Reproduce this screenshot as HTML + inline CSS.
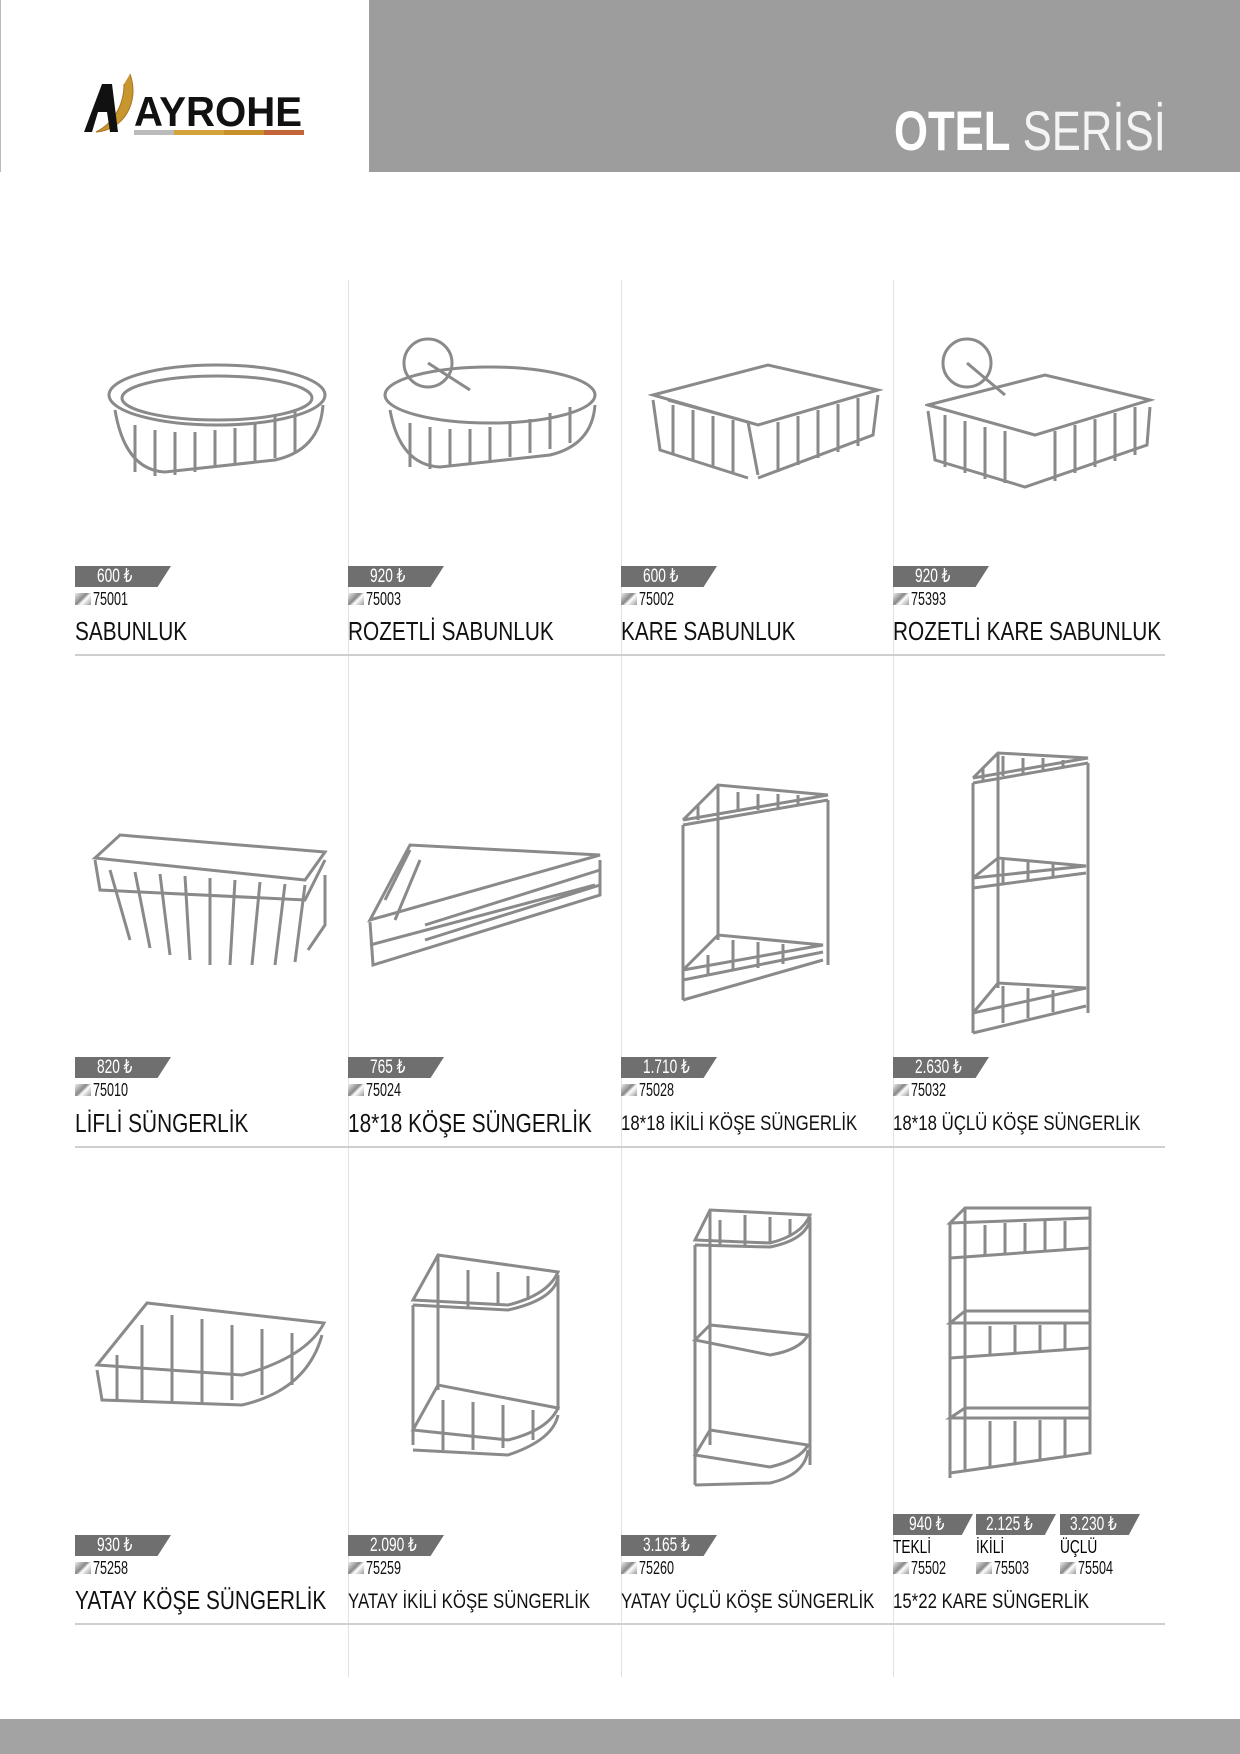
<!DOCTYPE html>
<html><head><meta charset="utf-8"><style>
*{margin:0;padding:0;box-sizing:border-box}
body{width:1240px;height:1754px;position:relative;background:#fff;font-family:"Liberation Sans",sans-serif;overflow:hidden}
.a{position:absolute}
.n{transform:scaleX(0.76);transform-origin:0 50%;white-space:nowrap}
.tag{position:absolute;width:96px;height:21px;background:#6f6f6f;clip-path:polygon(0 0,100% 0,86% 100%,0 100%);color:#fff;font-size:19px;line-height:21px;padding-left:22px}
.tag span{display:inline-block;transform:scaleX(0.72);transform-origin:0 50%;white-space:nowrap}
.code{position:absolute;font-size:18px;line-height:19px;color:#111;padding-left:18px;white-space:nowrap}
.code:before{content:"";position:absolute;left:0;top:3px;width:16px;height:12px;background:linear-gradient(135deg,#eee,#888 45%,#fff 60%,#999)}
.code span{display:inline-block;transform:scaleX(0.7);transform-origin:0 50%}
.t{position:absolute;font-size:26px;color:#111;white-space:nowrap;transform:scaleX(0.8);transform-origin:0 50%}
.ts{font-size:21px;transform:scaleX(0.8)}
.vl{position:absolute;top:280px;width:1px;height:1397px;background:#e2e2e2}
.hl{position:absolute;left:75px;width:1090px;height:2px;background:#cfcfcf}
svg{position:absolute}
svg *{fill:none;stroke:#8a8a8a;stroke-width:3}
</style></head><body>
<div class="a" style="left:0;top:0;width:1px;height:172px;background:#bbb"></div>
<div class="a" style="left:369px;top:0;width:871px;height:172px;background:#9d9d9d"></div>
<div class="a n" style="left:894px;top:98px;font-size:56px;color:#fff;transform:scaleX(0.78)"><b>OTEL</b> <span style="font-weight:normal;color:#f4f4f4">SERİSİ</span></div>
<svg style="left:74px;top:72px" width="232" height="66" viewBox="0 0 232 66">
<path d="M56 2 C66 30 50 58 22 60 C38 52 50 35 50 12" style="fill:#c8962e;stroke:#a87520;stroke-width:1"/>
<path d="M10 60 L28 12 L38 12 L44 60 L36 60 L33 40 L24 40 L18 60Z" style="fill:#111;stroke:none"/>
<text x="60" y="54" textLength="168" lengthAdjust="spacingAndGlyphs" style="fill:#111;stroke:none;font:bold 42px 'Liberation Sans',sans-serif">AYROHE</text>
<rect x="60" y="58" width="40" height="5" style="fill:#bbb;stroke:none"/><rect x="100" y="58" width="50" height="5" style="fill:#d4a33b;stroke:none"/><rect x="150" y="58" width="40" height="5" style="fill:#c8902a;stroke:none"/><rect x="190" y="58" width="40" height="5" style="fill:#c4643a;stroke:none"/>
</svg>

<div class="vl" style="left:348px"></div><div class="vl" style="left:621px"></div><div class="vl" style="left:893px"></div>
<div class="hl" style="top:654px"></div><div class="hl" style="top:1146px"></div><div class="hl" style="top:1623px"></div>
<div class="a" style="left:0;top:1719px;width:1240px;height:35px;background:#a3a3a3"></div>

<!-- Row 1 -->
<svg style="left:105px;top:360px" width="225" height="125"><ellipse cx="112" cy="35" rx="108" ry="30"/><ellipse cx="112" cy="38" rx="95" ry="22"/><path d="M10 50 Q20 110 60 112 L170 100 Q215 90 218 45"/><path d="M30 65 V112 M50 70 V116 M70 72 V115 M90 72 V112 M110 70 V108 M130 68 V105 M150 62 V102 M170 56 V98 M190 50 V92"/></svg>
<svg style="left:380px;top:335px" width="220" height="150"><circle cx="48" cy="28" r="24"/><path d="M48 28 L90 55"/><ellipse cx="110" cy="60" rx="105" ry="28"/><path d="M10 75 Q20 130 60 132 L170 120 Q212 110 215 70"/><path d="M30 88 V132 M50 92 V134 M70 94 V132 M90 94 V130 M110 92 V126 M130 88 V122 M150 84 V118 M170 78 V114 M190 72 V108"/></svg>
<svg style="left:648px;top:360px" width="235" height="130"><path d="M5 35 L120 5 L230 30 L110 65Z"/><path d="M20 40 L100 62 L110 115 M5 40 L12 90 L100 118 M230 35 L225 75 L110 118"/><path d="M25 45 V95 M45 50 V100 M65 56 V106 M85 60 V112 M130 62 V112 M150 56 V105 M170 50 V98 M190 44 V92 M210 38 V86"/></svg>
<svg style="left:925px;top:335px" width="230" height="160"><circle cx="42" cy="28" r="24"/><path d="M42 28 L80 60"/><path d="M3 70 L120 40 L225 65 L110 100Z"/><path d="M3 76 L10 125 L100 152 L222 110 L225 72"/><path d="M20 80 V132 M40 86 V138 M60 92 V144 M80 96 V148 M130 96 V146 M150 90 V138 M170 84 V132 M190 78 V126 M210 72 V120"/></svg>

<div class="tag" style="left:75px;top:566px"><span>600 ₺</span></div><div class="code" style="left:75px;top:590px"><span>75001</span></div><div class="t" style="left:75px;top:616px">SABUNLUK</div>
<div class="tag" style="left:348px;top:566px"><span>920 ₺</span></div><div class="code" style="left:348px;top:590px"><span>75003</span></div><div class="t" style="left:348px;top:616px">ROZETLİ SABUNLUK</div>
<div class="tag" style="left:621px;top:566px"><span>600 ₺</span></div><div class="code" style="left:621px;top:590px"><span>75002</span></div><div class="t" style="left:621px;top:616px">KARE SABUNLUK</div>
<div class="tag" style="left:893px;top:566px"><span>920 ₺</span></div><div class="code" style="left:893px;top:590px"><span>75393</span></div><div class="t" style="left:893px;top:616px">ROZETLİ KARE SABUNLUK</div>

<!-- Row 2 -->
<svg style="left:90px;top:830px" width="240" height="140"><path d="M5 28 L30 5 L235 22 L215 50 Z"/><path d="M5 30 L10 60 L215 70 L235 30"/><path d="M20 40 L40 110 M45 42 L60 118 M70 44 L80 125 M95 46 L100 130 M120 48 L120 135 M145 50 L140 135 M170 52 L162 135 M195 54 L185 135 M215 55 L205 132 M235 45 L235 95 L218 120"/></svg>
<svg style="left:365px;top:840px" width="240" height="130"><path d="M5 80 L45 5 L235 15 L5 80Z"/><path d="M5 82 L8 125 L235 55 L235 20"/><path d="M20 60 L45 10 M30 80 L55 20 M60 85 L235 30 M60 100 L235 45 M5 105 L230 45"/></svg>
<svg style="left:678px;top:780px" width="155" height="225"><path d="M5 40 L40 5 L150 15 L5 40 M5 45 L150 20"/><path d="M5 45 V220 M150 20 V185 M40 5 V160"/><path d="M5 190 L40 155 L145 165 L5 190 M5 220 L145 180 M5 200 L145 172"/><path d="M20 25 L20 40 M40 10 V35 M60 12 V32 M80 14 V30 M100 14 V28 M120 15 V26"/><path d="M30 175 V195 M55 160 V190 M80 162 V188 M105 164 V184"/></svg>
<svg style="left:968px;top:748px" width="125" height="290"><path d="M5 30 L30 5 L120 10 L5 30 M5 35 L120 15"/><path d="M5 35 V285 M120 15 V265 M30 5 V240"/><path d="M5 130 L30 110 L118 118 L5 130 M5 140 L118 125"/><path d="M5 265 L30 235 L118 240 L5 265 M5 285 L118 258"/><path d="M15 20 V32 M35 8 V28 M55 10 V25 M75 10 V22 M95 12 V20 M35 112 V135 M60 114 V132 M85 116 V128 M35 238 V275 M60 240 V270 M85 242 V264"/></svg>

<div class="tag" style="left:75px;top:1057px"><span>820 ₺</span></div><div class="code" style="left:75px;top:1081px"><span>75010</span></div><div class="t" style="left:75px;top:1108px">LİFLİ SÜNGERLİK</div>
<div class="tag" style="left:348px;top:1057px"><span>765 ₺</span></div><div class="code" style="left:348px;top:1081px"><span>75024</span></div><div class="t" style="left:348px;top:1108px">18*18 KÖŞE SÜNGERLİK</div>
<div class="tag" style="left:621px;top:1057px"><span>1.710 ₺</span></div><div class="code" style="left:621px;top:1081px"><span>75028</span></div><div class="t ts" style="left:621px;top:1112px">18*18 İKİLİ KÖŞE SÜNGERLİK</div>
<div class="tag" style="left:893px;top:1057px"><span>2.630 ₺</span></div><div class="code" style="left:893px;top:1081px"><span>75032</span></div><div class="t ts" style="left:893px;top:1112px">18*18 ÜÇLÜ KÖŞE SÜNGERLİK</div>

<!-- Row 3 -->
<svg style="left:92px;top:1295px" width="235" height="120"><path d="M5 70 L55 8 L232 28 Q215 62 150 80 Z"/><path d="M5 75 L10 105 L150 110 Q215 95 230 40"/><path d="M25 60 V105 M50 30 V108 M80 20 V108 M110 24 V108 M140 30 V105 M170 34 V100 M200 38 V90"/></svg>
<svg style="left:408px;top:1250px" width="155" height="210"><path d="M5 50 L30 5 L150 22 Q140 45 100 55 Z M5 55 L100 60 Q145 50 150 28"/><path d="M5 55 V195 M150 25 V160 M30 5 V140"/><path d="M5 180 L30 135 L150 158 Q140 180 100 190 Z M5 200 L100 205 Q145 190 150 165"/><path d="M30 20 V55 M60 20 V58 M90 22 V56 M120 26 V50 M35 150 V200 M65 152 V200 M95 155 V198 M125 160 V190"/></svg>
<svg style="left:690px;top:1205px" width="125" height="285"><path d="M5 35 L20 5 L120 10 Q112 30 80 38 Z M5 40 L80 42 Q115 35 120 15"/><path d="M5 40 V280 M120 12 V260 M20 5 V240"/><path d="M5 135 L20 120 L118 130 Q110 145 80 150 Z"/><path d="M5 250 L20 225 L118 240 Q110 255 80 262 Z M5 280 L80 278 Q115 270 118 245"/><path d="M30 15 V40 M55 10 V42 M80 12 V38 M100 14 V30"/></svg>
<svg style="left:945px;top:1203px" width="150" height="280"><path d="M5 20 L20 5 L145 5 L145 15 L5 20Z"/><path d="M5 20 V55 L145 45 V15 M5 55 L5 275 M145 45 V250 M20 5 V240"/><path d="M5 120 L20 108 L145 108 L145 120 Z M5 155 L145 145 V120"/><path d="M5 215 L20 205 L145 205 L145 215 Z M5 270 L145 250 V215"/><path d="M20 25 V55 M40 22 V53 M60 20 V52 M80 20 V50 M100 18 V49 M120 18 V47 M20 125 V153 M45 123 V152 M70 122 V150 M95 122 V148 M120 121 V146 M20 220 V268 M45 218 V265 M70 218 V262 M95 217 V258 M120 216 V255"/></svg>

<div class="tag" style="left:75px;top:1535px"><span>930 ₺</span></div><div class="code" style="left:75px;top:1559px"><span>75258</span></div><div class="t" style="left:75px;top:1585px">YATAY KÖŞE SÜNGERLİK</div>
<div class="tag" style="left:348px;top:1535px"><span>2.090 ₺</span></div><div class="code" style="left:348px;top:1559px"><span>75259</span></div><div class="t ts" style="left:348px;top:1590px">YATAY İKİLİ KÖŞE SÜNGERLİK</div>
<div class="tag" style="left:621px;top:1535px"><span>3.165 ₺</span></div><div class="code" style="left:621px;top:1559px"><span>75260</span></div><div class="t ts" style="left:621px;top:1590px">YATAY ÜÇLÜ KÖŞE SÜNGERLİK</div>
<div class="tag" style="left:893px;top:1514px;width:80px;padding-left:16px"><span>940 ₺</span></div>
<div class="tag" style="left:976px;top:1514px;width:80px;padding-left:10px"><span>2.125 ₺</span></div>
<div class="tag" style="left:1060px;top:1514px;width:80px;padding-left:10px"><span>3.230 ₺</span></div>
<div class="a n" style="left:893px;top:1537px;font-size:18px">TEKLİ</div><div class="a n" style="left:976px;top:1537px;font-size:18px">İKİLİ</div><div class="a n" style="left:1060px;top:1537px;font-size:18px">ÜÇLÜ</div>
<div class="code" style="left:893px;top:1559px"><span>75502</span></div><div class="code" style="left:976px;top:1559px"><span>75503</span></div><div class="code" style="left:1060px;top:1559px"><span>75504</span></div>
<div class="t ts" style="left:893px;top:1590px">15*22 KARE SÜNGERLİK</div>
</body></html>
